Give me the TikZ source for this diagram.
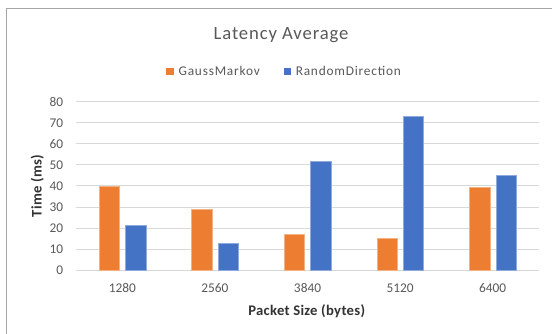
\documentclass[tikz,border=0pt]{standalone}
\usepackage{fontspec}
\setmainfont{Carlito}
\definecolor{gmorange}{HTML}{ED7D31}
\definecolor{rdblue}{HTML}{4472C4}
\definecolor{gridgray}{HTML}{D9D9D9}
\definecolor{labelgray}{HTML}{595959}
\definecolor{titledark}{HTML}{333333}
\definecolor{framegray}{HTML}{A6A6A6}
\begin{document}
\begin{tikzpicture}[x=0.75pt,y=-0.75pt,
  gridline/.style={draw=gridgray,line width=0.75pt},
  ticklabel/.style={text=labelgray,font=\fontsize{10}{12}\selectfont,inner sep=0pt},
  axistitle/.style={text=titledark,font=\fontsize{11}{13}\selectfont\bfseries\addfontfeatures{LetterSpace=2},inner sep=0pt},
  legendtext/.style={text=labelgray,font=\fontsize{10}{12}\selectfont\addfontfeatures{LetterSpace=6},inner sep=0pt,anchor=west},
  charttitle/.style={text=labelgray,font=\fontsize{14}{16}\selectfont\addfontfeatures{LetterSpace=4.7},inner sep=0pt},
  barA/.style={fill=gmorange,draw=gmorange!60!white,line width=0.3pt},
  barB/.style={fill=rdblue,draw=rdblue!60!white,line width=0.3pt}]
\useasboundingbox (0,0) rectangle (552,334);
\fill[white] (0,0) rectangle (552,334);
% chart frame (left and top edges)
\draw[framegray,line width=0.9pt] (6.3,334) -- (6.3,8.3) -- (552,8.3);
% title
\node[charttitle] (title) at (281,35) {Latency Average};
% legend
\fill[gmorange] (166,67.7) rectangle (173.7,75.2);
\node[legendtext] (legA) at (178.3,71.3) {GaussMarkov};
\fill[rdblue] (283.5,67.7) rectangle (291.2,75.2);
\node[legendtext] (legB) at (295.5,71.3) {RandomDirection};
% gridlines and y tick labels
\foreach \v in {0,10,...,80}{
  \pgfmathsetmacro{\yy}{270.3-2.1075*\v}
  \draw[gridline] (76,\yy) -- (539,\yy);
  \node[ticklabel,anchor=east] (ytick\v) at (63.5,\yy) {\v};
}
% bars and category labels
\foreach \i/\lab/\a/\b in {0/1280/40.1/21.4, 1/2560/29.1/13.0, 2/3840/17.0/51.6, 3/5120/15.1/72.9, 4/6400/39.5/45.3}{
  \pgfmathsetmacro{\cx}{76+92.6*(\i+0.5)}
  \pgfmathsetmacro{\ya}{270.3-2.1075*\a}
  \pgfmathsetmacro{\yb}{270.3-2.1075*\b}
  \path[barA] (\cx-23.4,270.3) rectangle (\cx-3,\ya);
  \path[barB] (\cx+3,270.3) rectangle (\cx+23.4,\yb);
  \node[ticklabel] (xtick\i) at (\cx,288.3) {\lab};
}
% axis titles
\node[axistitle,rotate=90] (ytitle) at (37.2,185.8) {Time (ms)};
\node[axistitle] (xtitle) at (306.7,311.5) {Packet Size (bytes)};
\end{tikzpicture}
\end{document}
